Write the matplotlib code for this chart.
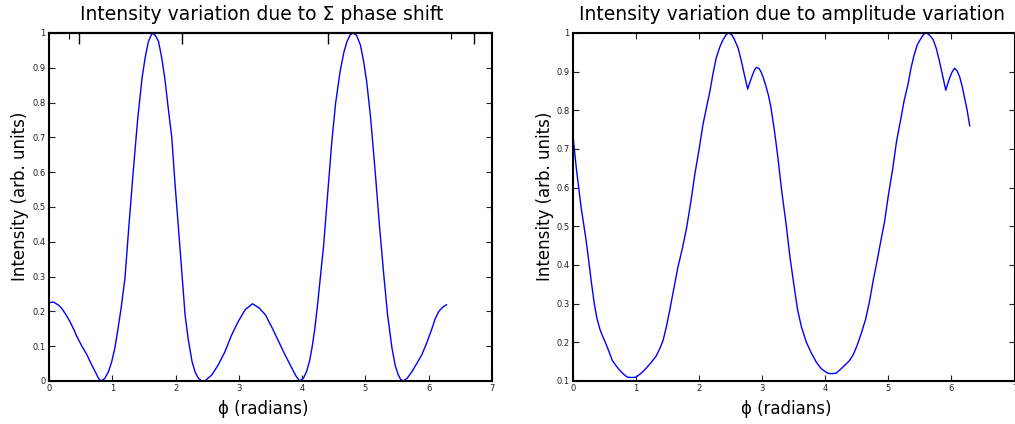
import matplotlib
matplotlib.use('Agg')
import matplotlib.pyplot as plt

# Left panel: intensity vs. phase shift
phi_phase = [0.0, 0.07, 0.15, 0.2, 0.27, 0.33, 0.4, 0.44, 0.52, 0.6, 0.67, 0.73, 0.78,
             0.82, 0.88, 0.94, 0.99, 1.04, 1.09, 1.14, 1.2, 1.26, 1.33, 1.4, 1.47, 1.52,
             1.57, 1.63, 1.68, 1.73, 1.78, 1.83, 1.88, 1.94, 1.99, 2.045, 2.1, 2.15, 2.2,
             2.26, 2.31, 2.36, 2.41, 2.46, 2.57, 2.67, 2.78, 2.88, 2.99, 3.1, 3.215,
             3.32, 3.42, 3.52, 3.63, 3.73, 3.84, 3.9, 3.96, 4.02, 4.07, 4.12, 4.16, 4.2,
             4.25, 4.3, 4.34, 4.4, 4.47, 4.53, 4.6, 4.66, 4.71, 4.76, 4.81, 4.86, 4.92,
             4.97, 5.02, 5.08, 5.155, 5.22, 5.29, 5.35, 5.42, 5.47, 5.52, 5.56, 5.6,
             5.66, 5.735, 5.81, 5.89, 5.97, 6.05, 6.1, 6.16, 6.22, 6.28]
intensity_phase = [0.225, 0.227, 0.218, 0.209, 0.19, 0.171, 0.145, 0.128, 0.1, 0.075,
                   0.048, 0.027, 0.008, 0.0, 0.007, 0.027, 0.055, 0.094, 0.15, 0.21,
                   0.295, 0.44, 0.6, 0.75, 0.87, 0.93, 0.975, 1.0, 0.993, 0.976, 0.93,
                   0.87, 0.79, 0.70, 0.57, 0.44, 0.31, 0.19, 0.12, 0.056, 0.025, 0.008,
                   0.001, 0.0, 0.017, 0.045, 0.084, 0.13, 0.171, 0.205, 0.222, 0.21,
                   0.19, 0.155, 0.113, 0.075, 0.036, 0.015, 0.0, 0.008, 0.027, 0.06, 0.1,
                   0.15, 0.23, 0.32, 0.39, 0.53, 0.69, 0.8, 0.89, 0.945, 0.976, 0.995,
                   1.0, 0.993, 0.966, 0.92, 0.86, 0.76, 0.60, 0.45, 0.305, 0.19, 0.094,
                   0.045, 0.017, 0.004, 0.0, 0.008, 0.027, 0.05, 0.075, 0.11, 0.15,
                   0.178, 0.2, 0.212, 0.219]

# Right panel: intensity vs. amplitude variation
phi_amp = [0.0, 0.053, 0.09, 0.13, 0.17, 0.21, 0.25, 0.29, 0.34, 0.38, 0.43, 0.48, 0.53,
           0.58, 0.62, 0.68, 0.74, 0.8, 0.86, 0.93, 1.0, 1.08, 1.16, 1.24, 1.32, 1.38,
           1.43, 1.48, 1.53, 1.6, 1.66, 1.73, 1.8, 1.87, 1.93, 2.0, 2.06, 2.12, 2.17,
           2.22, 2.27, 2.33, 2.38, 2.43, 2.47, 2.52, 2.56, 2.62, 2.67, 2.72, 2.77, 2.8,
           2.84, 2.88, 2.91, 2.95, 2.98, 3.02, 3.06, 3.1, 3.14, 3.2, 3.25, 3.31, 3.38,
           3.44, 3.51, 3.56, 3.62, 3.7, 3.78, 3.86, 3.94, 4.04, 4.1, 4.17, 4.24, 4.31,
           4.38, 4.44, 4.5, 4.57, 4.64, 4.70, 4.76, 4.83, 4.88, 4.94, 5.0, 5.07, 5.13,
           5.2, 5.25, 5.31, 5.36, 5.41, 5.46, 5.52, 5.56, 5.6, 5.65, 5.71, 5.76, 5.81,
           5.86, 5.91, 5.94, 5.97, 6.01, 6.05, 6.09, 6.13, 6.17, 6.21, 6.25, 6.29]
intensity_amp = [0.733, 0.65, 0.6, 0.547, 0.505, 0.461, 0.41, 0.357, 0.297, 0.262, 0.232,
                 0.212, 0.193, 0.172, 0.154, 0.14, 0.128, 0.118, 0.11, 0.109, 0.11, 0.12,
                 0.133, 0.148, 0.165, 0.185, 0.206, 0.24, 0.28, 0.34, 0.392, 0.44, 0.495,
                 0.565, 0.633, 0.70, 0.763, 0.81, 0.849, 0.895, 0.935, 0.965, 0.983,
                 0.996, 1.0, 0.995, 0.983, 0.96, 0.927, 0.89, 0.855, 0.87, 0.889, 0.905,
                 0.911, 0.908, 0.9, 0.883, 0.862, 0.838, 0.806, 0.74, 0.676, 0.59, 0.504,
                 0.42, 0.34, 0.285, 0.241, 0.2, 0.172, 0.148, 0.131, 0.12, 0.119, 0.12,
                 0.13, 0.141, 0.152, 0.167, 0.19, 0.223, 0.26, 0.305, 0.36, 0.418, 0.462,
                 0.512, 0.58, 0.65, 0.72, 0.78, 0.825, 0.866, 0.91, 0.944, 0.97, 0.987,
                 0.997, 1.0, 0.995, 0.983, 0.96, 0.927, 0.89, 0.852, 0.868, 0.883, 0.899,
                 0.909, 0.902, 0.887, 0.862, 0.831, 0.8, 0.76]

# odd extra ticks sitting on the top spine of the left panel
stray_top_major = [0.474, 2.10, 4.41, 6.71]
stray_top_minor = [0.32, 6.36]

left_yticks = [0, 0.1, 0.2, 0.3, 0.4, 0.5, 0.6, 0.7, 0.8, 0.9, 1]
left_ylabels = ['0', '0.1', '0.2', '0.3', '0.4', '0.5', '0.6', '0.7', '0.8', '0.9', '1']
right_yticks = [0.1, 0.2, 0.3, 0.4, 0.5, 0.6, 0.7, 0.8, 0.9, 1]
right_ylabels = ['0.1', '0.2', '0.3', '0.4', '0.5', '0.6', '0.7', '0.8', '0.9', '1']
xticks = [0, 1, 2, 3, 4, 5, 6, 7]

fig = plt.figure(figsize=(10.15, 4.24), dpi=100)
ax1 = fig.add_axes([49 / 1015, 43 / 424, 443 / 1015, 348 / 424])
ax2 = fig.add_axes([573 / 1015, 43 / 424, 441.5 / 1015, 348 / 424])

ax1.plot(phi_phase, intensity_phase, color='#0000ff', lw=1.0)
ax2.plot(phi_amp, intensity_amp, color='#0000ff', lw=1.0)

ax1.set_ylim(0, 1)
ax1.set_yticks(left_yticks)
ax1.set_yticklabels(left_ylabels)
ax2.set_ylim(0.1, 1)
ax2.set_yticks(right_yticks)
ax2.set_yticklabels(right_ylabels)

for ax in (ax1, ax2):
    ax.set_xlim(0, 7)
    ax.set_xticks(xticks)
    ax.tick_params(direction='in', length=4, width=0.8, labelsize=6, pad=2.5,
                   top=True, right=True, colors='#222222')
    for sp in ax.spines.values():
        sp.set_linewidth(1.5)
    ax.set_xlabel('\u03d5 (radians)', fontsize=12, labelpad=4.5)
    ax.set_ylabel('Intensity (arb. units)', fontsize=12, labelpad=2)
    # labels sit a bit off-centre in the reference
    ax.xaxis.label.set_x(0.484)
    ax.yaxis.label.set_y(0.532)

# left panel: normal top ticks replaced by the stray ones
ax1.tick_params(top=False)
sec = ax1.secondary_xaxis('top')
sec.set_xticks(stray_top_major)
sec.set_xticks(stray_top_minor, minor=True)
sec.tick_params(which='major', direction='in', length=8, width=1.0, labeltop=False)
sec.tick_params(which='minor', direction='in', length=4, width=0.8, labeltop=False)
sec.spines['top'].set_linewidth(1.5)

ax1.set_title('Intensity variation due to \u03a3 phase shift', fontsize=13.5, pad=9.5, x=0.479)
ax2.set_title('Intensity variation due to amplitude variation', fontsize=13.5, pad=9.5, x=0.497)

fig.savefig('out.png', dpi=100)
